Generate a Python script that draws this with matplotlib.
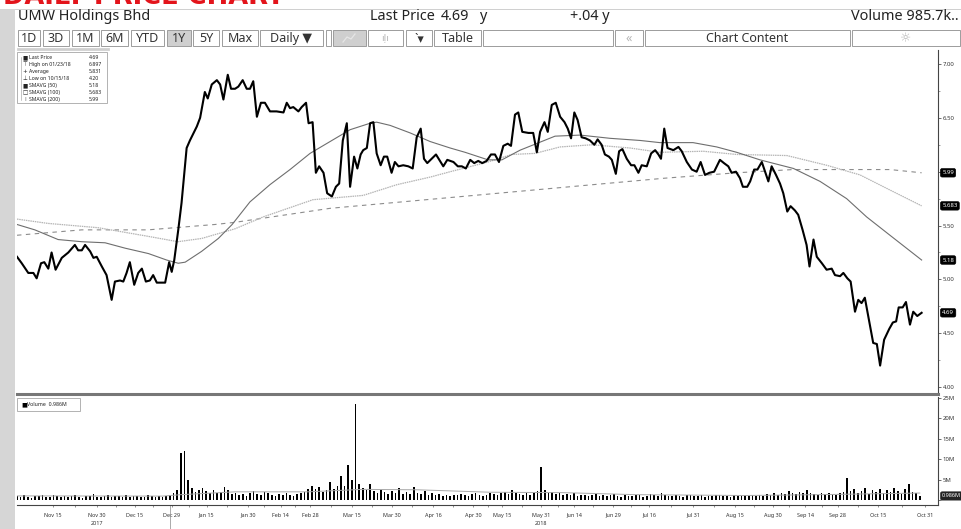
"""Bloomberg-style daily price chart for UMW Holdings Bhd (1Y, with SMAVG 50/100/200 and volume)."""

import matplotlib

matplotlib.use("Agg")

import matplotlib.pyplot as plt
from matplotlib.lines import Line2D
from matplotlib.patches import Rectangle

plt.rcParams["font.family"] = ["Noto Sans", "DejaVu Sans"]

W, H = 961, 529

# ---------------------------------------------------------------- data
# x = trading session index from the start of the 1Y window
price_day = [
    0, 1.3, 3.1, 4.5, 5.4, 6.6, 7.5, 8.6, 9.5, 10.6,
    12.3, 14.1, 15.9, 16.8, 17.8, 18.7, 20.1, 21.0, 21.9, 23.3,
    24.6, 26.0, 26.9, 28.3, 29.2, 30.1, 31.0, 32.2, 33.3, 34.3,
    35.4, 36.5, 37.4, 38.4, 39.8, 40.7, 41.8, 42.5, 43.2, 44.3,
    45.2, 46.6, 47.5, 49.4, 50.3, 51.6, 52.4, 53.5, 54.9, 55.8,
    56.7, 57.9, 58.8, 59.9, 60.8, 62.0, 63.1, 64.0, 64.9, 65.9,
    67.0, 68.1, 69.5, 71.3, 73.2, 74.1, 75.0, 75.9, 77.3, 78.2,
    79.4, 80.1, 81.2, 82.1, 83.0, 84.2, 85.2, 86.5, 87.6, 88.5,
    89.5, 90.6, 91.5, 92.6, 93.5, 94.4, 95.1, 96.1, 97.0, 97.9,
    98.8, 99.9, 100.8, 101.7, 102.9, 103.8, 104.8, 106.1, 107.5, 108.7,
    109.8, 110.9, 111.8, 112.7, 113.9, 115.1, 116.0, 117.1, 118.2, 119.9,
    121.1, 122.2, 123.3, 124.5, 125.6, 126.7, 127.8, 129.0, 130.2, 131.3,
    132.4, 133.6, 134.8, 135.7, 136.8, 137.7, 138.8, 140.5, 141.8, 142.8,
    143.7, 144.9, 145.8, 146.9, 148.0, 149.2, 150.4, 151.3, 152.2, 153.1,
    154.0, 155.1, 156.2, 157.4, 158.6, 159.5, 160.6, 161.5, 162.6, 163.4,
    164.5, 165.4, 166.3, 167.5, 168.7, 169.6, 170.7, 171.6, 173.0, 174.2,
    175.3, 176.2, 176.9, 177.8, 178.7, 180.3, 181.7, 182.6, 184.0, 185.4,
    186.7, 187.8, 189.0, 190.2, 191.5, 193.1, 194.2, 195.4, 196.3, 197.5,
    198.6, 199.4, 200.6, 201.4, 202.5, 203.4, 204.6, 205.5, 206.4, 207.3,
    208.5, 209.6, 210.5, 211.6, 212.5, 213.7, 214.6, 215.8, 216.9, 217.7,
    218.8, 219.7, 221.1, 222.4, 223.8, 224.7, 226.1, 227.0, 228.1, 229.0,
    230.2, 231.1, 232.0, 232.9, 234.1, 235.2, 236.2, 237.1, 238.2, 239.6,
    240.6, 241.5, 242.2, 243.3, 244.2, 245.3, 246.2, 247.3, 248.5,
]
price_last = [
    5.21, 5.15, 5.06, 5.06, 5.01, 5.15, 5.16, 5.10, 5.25, 5.09,
    5.20, 5.25, 5.32, 5.27, 5.27, 5.32, 5.26, 5.20, 5.21, 5.12,
    5.04, 4.81, 4.98, 4.99, 4.98, 5.06, 5.16, 4.95, 5.06, 5.10,
    4.98, 4.99, 5.04, 4.97, 4.97, 4.97, 5.16, 5.07, 5.18, 5.46,
    5.71, 6.22, 6.29, 6.42, 6.50, 6.74, 6.68, 6.81, 6.85, 6.81,
    6.67, 6.90, 6.77, 6.77, 6.79, 6.85, 6.77, 6.77, 6.84, 6.51,
    6.64, 6.64, 6.56, 6.56, 6.55, 6.64, 6.59, 6.60, 6.56, 6.60,
    6.64, 6.45, 6.46, 5.99, 6.05, 5.99, 5.80, 5.77, 5.86, 5.89,
    6.29, 6.45, 5.86, 6.14, 6.03, 6.16, 6.20, 6.22, 6.45, 6.46,
    6.17, 6.06, 6.14, 6.14, 5.99, 6.09, 6.05, 6.06, 6.05, 6.03,
    6.32, 6.40, 6.12, 6.08, 6.12, 6.16, 6.11, 6.05, 6.11, 6.09,
    6.05, 6.05, 6.03, 6.11, 6.08, 6.10, 6.08, 6.10, 6.16, 6.16,
    6.09, 6.24, 6.26, 6.24, 6.53, 6.55, 6.37, 6.36, 6.36, 6.18,
    6.37, 6.46, 6.37, 6.62, 6.64, 6.51, 6.46, 6.40, 6.31, 6.55,
    6.48, 6.32, 6.31, 6.29, 6.25, 6.30, 6.25, 6.16, 6.14, 6.11,
    5.98, 6.19, 6.21, 6.12, 6.06, 6.06, 5.99, 6.06, 6.05, 6.17,
    6.20, 6.16, 6.12, 6.40, 6.22, 6.20, 6.23, 6.19, 6.09, 6.02,
    6.00, 6.09, 5.97, 5.99, 6.00, 6.11, 6.08, 6.05, 5.99, 6.00,
    5.94, 5.86, 5.86, 5.91, 6.02, 6.02, 6.09, 6.00, 5.91, 6.05,
    5.97, 5.89, 5.80, 5.63, 5.68, 5.64, 5.60, 5.46, 5.32, 5.12,
    5.37, 5.21, 5.15, 5.09, 5.10, 5.04, 5.03, 5.06, 5.01, 4.98,
    4.70, 4.81, 4.78, 4.83, 4.61, 4.41, 4.40, 4.20, 4.44, 4.54,
    4.60, 4.61, 4.74, 4.74, 4.79, 4.58, 4.70, 4.66, 4.69,
]
assert len(price_day) == len(price_last)

sma50_day = [0, 4.9, 11.3, 17.8, 24.2, 29.7, 36.1, 41.1, 44.3, 46.2, 50.7, 55.3,
             59.1, 64.0, 69.5, 75.0, 80.5, 86.0, 91.5, 97.0, 98.8, 102.5, 108.0,
             113.5, 119.0, 123.1, 129.4, 133.2, 138.2, 147.8, 154.7, 162.9, 171.2,
             176.6, 185.7, 192.2, 197.7, 204.1, 213.3, 220.6, 227.9, 233.4, 239.8, 248.5]
sma50 = [5.51, 5.46, 5.37, 5.35, 5.34, 5.29, 5.24, 5.18, 5.15, 5.16, 5.26, 5.38,
         5.51, 5.72, 5.88, 6.02, 6.17, 6.28, 6.39, 6.45, 6.46, 6.43, 6.36,
         6.28, 6.22, 6.18, 6.11, 6.11, 6.20, 6.33, 6.34, 6.31, 6.29,
         6.27, 6.27, 6.23, 6.18, 6.11, 6.03, 5.91, 5.75, 5.58, 5.41, 5.18]

sma100_day = [0, 8.5, 22.3, 36.0, 44.2, 50.7, 59.9, 67.6, 81.3, 95.1, 104.4, 113.5,
              119.0, 129.4, 135.9, 142.3, 149.2, 158.0, 168.4, 176.6, 188.5, 197.7,
              211.5, 222.4, 231.6, 239.8, 248.5]
sma100 = [5.56, 5.52, 5.48, 5.40, 5.35, 5.38, 5.47, 5.58, 5.74, 5.78, 5.88, 5.95,
          6.00, 6.09, 6.16, 6.17, 6.23, 6.25, 6.22, 6.18, 6.19, 6.16,
          6.15, 6.06, 5.97, 5.83, 5.683]

sma200_day = [0, 17.8, 36.0, 54.4, 59.9, 86.0, 119.0, 178.0, 197.7, 213.2, 239.8, 248.5]
sma200 = [5.41, 5.46, 5.46, 5.51, 5.53, 5.66, 5.76, 5.94, 5.99, 6.02, 6.02, 5.99]

# daily volume in millions of shares, one value per session
volume = [
    0.9, 0.7, 1.1, 0.8, 0.6, 1.0, 0.9, 1.3, 0.8, 0.7, 1.2, 0.9, 0.8, 1.0, 0.7, 0.9, 1.1, 0.8, 0.6, 0.9,
    1.0, 1.4, 0.8, 0.7, 0.9, 1.2, 0.8, 1.0, 0.9, 0.7, 1.1, 0.8, 0.9, 1.0, 0.7, 0.8, 1.2, 0.9, 0.8, 1.0,
    0.7, 0.9, 1.3, 1.8, 2.5, 11.5, 12.0, 5.0, 3.0, 2.0, 2.5, 3.0, 2.2, 1.8, 2.5, 1.6, 2.0, 3.2, 2.4, 1.5,
    1.8, 1.2, 1.5, 1.0, 1.8, 2.2, 1.5, 1.2, 2.0, 1.6, 1.2, 1.0, 1.5, 1.3, 1.8, 1.2, 1.0, 1.4, 1.6, 2.0,
    2.8, 3.5, 2.6, 3.2, 2.0, 2.5, 4.5, 2.8, 3.5, 6.0, 3.5, 8.5, 5.0, 23.5, 4.0, 3.0, 2.5, 3.8, 2.2, 1.8,
    2.5, 2.0, 1.5, 2.2, 1.6, 3.0, 1.4, 2.0, 1.5, 3.2, 1.8, 1.4, 2.2, 1.3, 1.6, 1.1, 1.4, 1.0, 1.2, 0.9,
    1.3, 1.1, 1.5, 1.2, 0.9, 1.4, 1.6, 1.2, 1.0, 1.3, 1.8, 1.4, 1.1, 1.6, 2.0, 1.5, 2.4, 1.8, 1.4, 1.2,
    1.6, 1.3, 1.8, 2.2, 8.0, 2.5, 1.6, 2.0, 1.4, 1.8, 1.3, 1.5, 1.2, 1.6, 1.0, 1.3, 1.1, 0.9, 1.2, 1.4,
    1.0, 1.2, 0.9, 1.1, 1.5, 1.0, 0.8, 1.2, 1.0, 0.9, 1.3, 1.1, 0.8, 1.0, 1.4, 1.2, 0.9, 1.6, 1.1, 1.0,
    0.9, 1.2, 1.0, 0.8, 1.1, 1.3, 0.9, 1.0, 1.2, 0.8, 1.0, 0.9, 1.1, 1.3, 0.9, 1.0, 0.8, 1.2, 1.0, 0.9,
    1.1, 1.0, 1.3, 0.9, 1.2, 1.0, 1.4, 1.1, 1.6, 1.2, 1.8, 1.5, 2.2, 1.6, 1.4, 2.0, 1.8, 2.4, 1.6, 1.5,
    1.3, 1.7, 1.4, 1.8, 1.5, 1.3, 1.6, 2.0, 5.5, 2.2, 2.6, 1.8, 2.2, 3.0, 1.5, 2.5, 2.0, 2.8, 1.6, 2.4,
    2.0, 3.0, 2.2, 1.5, 2.6, 3.8, 2.0, 1.8, 0.986,
]
vol_avg_day = [0, 40, 45, 60, 80, 95, 110, 130, 150, 170, 200, 220, 248]
vol_avg = [1.0, 0.95, 1.3, 2.0, 2.0, 2.6, 2.5, 1.9, 1.8, 1.3, 1.1, 1.3, 1.7]

tick_day = [9.8, 21.9, 32.4, 42.5, 52.1, 63.5, 72.4, 80.5, 92.0, 102.9, 114.3, 125.3,
            133.2, 144.0, 153.0, 163.7, 173.6, 185.7, 197.3, 207.6, 216.5, 225.5,
            236.5, 249.5]
tick_label = ["Nov 15", "Nov 30", "Dec 15", "Dec 29", "Jan 15", "Jan 30", "Feb 14",
              "Feb 28", "Mar 15", "Mar 30", "Apr 16", "Apr 30", "May 15", "May 31",
              "Jun 14", "Jun 29", "Jul 16", "Jul 31", "Aug 15", "Aug 30", "Sep 14",
              "Sep 28", "Oct 15", "Oct 31"]
year_day = [21.9, 144.0]
year_label = ["2017", "2018"]
year_break_day = 42.0

legend_label = ["Last Price", "High on 01/23/18", "Average", "Low on 10/15/18",
                "SMAVG (50)", "SMAVG (100)", "SMAVG (200)"]
legend_value = ["4.69", "6.897", "5.831", "4.20", "5.18", "5.683", "5.99"]
legend_symbol = ["■", "⊤", "+", "⊥", "■", "□", "⁞"]

price_flags = [5.99, 5.683, 5.18, 4.69]
price_flag_text = ["5.99", "5.683", "5.18", "4.69"]


# ---------------------------------------------------------------- helpers
def fx(px):
    return px / W


def fy(py):
    return 1 - py / H


def box(fig, x0, y0, x1, y1, fc="white", ec="#a6a6a6", lw=0.6, z=1):
    fig.add_artist(Rectangle((fx(x0), fy(y1)), (x1 - x0) / W, (y1 - y0) / H,
                             transform=fig.transFigure, fc=fc, ec=ec, lw=lw, zorder=z))


def hline(fig, x0, x1, y, color="#c8c8c8", lw=0.6):
    fig.add_artist(Line2D([fx(x0), fx(x1)], [fy(y), fy(y)], transform=fig.transFigure,
                          color=color, lw=lw))


fig = plt.figure(figsize=(W / 100, H / 100), dpi=100)
fig.patch.set_facecolor("white")

# page furniture (the red caption is cropped at the top edge, as in the screenshot)
box(fig, 0, 9, 15, 529, fc="#d6d6d6", ec="none")
fig.text(fx(3), fy(4), "DAILY PRICE CHART", color="#e3141b", fontsize=18.5,
         fontweight="bold", va="baseline", family="DejaVu Sans")
hline(fig, 15, 961, 8.5)

# header row
hdr = dict(fontsize=10.4, va="center", color="#222")
fig.text(fx(18), fy(16.5), "UMW Holdings Bhd", **hdr)
fig.text(fx(370), fy(16.5), "Last Price", **hdr)
fig.text(fx(441), fy(16.5), "4.69", **hdr)
fig.text(fx(479), fy(16.5), "y", **hdr)
fig.text(fx(570), fy(16.5), "+.04 y", **hdr)
fig.text(fx(959), fy(16.5), "Volume 985.7k..", ha="right", **hdr)

# toolbar row
buttons = [("1D", 18, 40, False), ("3D", 43, 69, False), ("1M", 72, 99, False),
           ("6M", 101, 128, False), ("YTD", 131, 164, False), ("1Y", 167, 191, True),
           ("5Y", 193, 219, False), ("Max", 222, 258, False), ("Daily ▼", 260, 323, False),
           ("", 326, 331, False), ("", 333, 366, True), ("", 368, 403, False),
           ("`▾", 406, 432, False), ("Table", 434, 481, False), ("", 483, 613, False),
           ("«", 615, 643, False), ("Chart Content", 645, 850, False), ("☼", 852, 960, False)]
for label, x0, x1, shaded in buttons:
    box(fig, x0, 30, x1, 46, fc="#cfcfcf" if shaded else "white", ec="#9c9c9c", lw=0.7)
    if label:
        grey = label in ("«", "☼")
        fig.text(fx((x0 + x1) / 2), fy(38.5), label, fontsize=9, ha="center", va="center",
                 color="#b5b5b5" if grey else "#333")
fig.text(fx(385.5), fy(38.5), "ıļı", fontsize=7, ha="center", va="center", color="#b8b8b8")
# faint line-chart glyph in the shaded button
fig.add_artist(Line2D([fx(343), fx(347), fx(351), fx(355)], [fy(42), fy(37), fy(39), fy(34)],
                      transform=fig.transFigure, color="#e6e6e6", lw=0.9, zorder=3))
hline(fig, 18, 108, 48.5, color="#d0d0d0", lw=2)

# ---------------------------------------------------------------- price panel
ax = fig.add_axes([fx(17), fy(394), (938 - 17) / W, (394 - 50) / H])
ax.plot(sma200_day, sma200, color="#8c8c8c", lw=0.8, ls=(0, (4, 4)))
ax.plot(sma100_day, sma100, color="#b4b4b4", lw=0.9, ls=(0, (1.2, 0.6)))
ax.plot(sma50_day, sma50, color="#6e6e6e", lw=0.8)
ax.plot(price_day, price_last, color="black", lw=1.5, solid_joinstyle="round")
ax.set_xlim(0, 253)
ax.set_ylim(3.936, 7.13)
ax.set_xticks([])
ax.yaxis.tick_right()
ax.set_yticks([4.0, 4.5, 5.0, 5.5, 6.0, 6.5, 7.0])
ax.set_yticklabels(["4.00", "4.50", "5.00", "5.50", "", "6.50", "7.00"])
ax.set_yticks([4.25, 4.75, 5.25, 5.75, 6.25, 6.75], minor=True)
ax.tick_params(axis="y", which="major", length=2.5, width=0.6, pad=1, labelsize=4.3,
               labelcolor="#333", color="#555")
ax.tick_params(axis="y", which="minor", length=1.5, width=0.5, color="#777")
for side in ("top", "left"):
    ax.spines[side].set_visible(False)
ax.spines["right"].set_color("#444")
ax.spines["right"].set_linewidth(0.8)
ax.spines["bottom"].set_color("#777")
ax.spines["bottom"].set_linewidth(2.2)

for v, t in zip(price_flags, price_flag_text):
    ax.annotate(t, xy=(1, v), xycoords=("axes fraction", "data"), xytext=(3, 0),
                textcoords="offset points", va="center", ha="left", fontsize=4.3,
                color="white", annotation_clip=False,
                bbox=dict(boxstyle="round,pad=0.3,rounding_size=0.3", fc="black", ec="black", lw=0.4))

# legend box
box(fig, 17, 52, 107, 103, z=3)
for i, (sym, lab, val) in enumerate(zip(legend_symbol, legend_label, legend_value)):
    yy = fy(57.5 + 7 * i)
    fig.text(fx(25), yy, sym, fontsize=4, ha="center", va="center", color="#222", zorder=4,
             family="DejaVu Sans")
    fig.text(fx(29), yy, lab, fontsize=3.7, va="center", color="#222", zorder=4)
    fig.text(fx(89), yy, val, fontsize=3.7, va="center", color="#222", zorder=4)
fig.add_artist(Line2D([fx(20.5), fx(20.5)], [fy(57), fy(100)], transform=fig.transFigure,
                      color="#999", lw=0.4, zorder=4))

# ---------------------------------------------------------------- volume panel
vax = fig.add_axes([fx(17), fy(505), (938 - 17) / W, (505 - 397) / H])
vax.bar(range(len(volume)), volume, width=0.45, color="black")
vax.plot(vol_avg_day, vol_avg, color="#a8a8a8", lw=0.7)
vax.set_xlim(0, 253)
vax.set_ylim(-1.23, 25.25)
vax.yaxis.tick_right()
vax.set_yticks([0, 5, 10, 15, 20, 25])
vax.set_yticklabels(["", "5M", "10M", "15M", "20M", "25M"])
vax.tick_params(axis="y", length=2.5, width=0.6, pad=1, labelsize=4.3, labelcolor="#333",
                color="#555")
vax.set_xticks(tick_day)
vax.set_xticklabels(tick_label)
minor_x = [(a + b) / 2 for a, b in zip(tick_day[:-1], tick_day[1:])]
vax.set_xticks(minor_x, minor=True)
vax.tick_params(axis="x", which="major", length=1.5, width=0.5, pad=4, labelsize=3.9,
                labelcolor="#333", color="#666")
vax.tick_params(axis="x", which="minor", length=1.5, width=0.5, color="#666")
for side in ("top", "left"):
    vax.spines[side].set_visible(False)
vax.spines["right"].set_color("#444")
vax.spines["right"].set_linewidth(0.8)
vax.spines["bottom"].set_color("#444")
vax.spines["bottom"].set_linewidth(0.8)

vax.annotate("0.986M", xy=(1, volume[-1]), xycoords=("axes fraction", "data"), xytext=(3, 0),
             textcoords="offset points", va="center", ha="left", fontsize=4, color="white",
             annotation_clip=False,
             bbox=dict(boxstyle="round,pad=0.3,rounding_size=0.3", fc="#222", ec="#222", lw=0.4))

for d, t in zip(year_day, year_label):
    vax.annotate(t, xy=(d, 0), xycoords=("data", "axes fraction"), xytext=(0, -13),
                 textcoords="offset points", ha="center", va="center", fontsize=3.9,
                 color="#333", annotation_clip=False)
vax.plot([year_break_day, year_break_day], [0, -0.22], transform=vax.get_xaxis_transform(),
         color="#888", lw=0.5, clip_on=False)

box(fig, 17, 398, 80, 411, z=3)
fig.text(fx(21), fy(404.5), "■", fontsize=4.5, va="center", color="black", zorder=4,
         family="DejaVu Sans")
fig.text(fx(27), fy(404.5), "Volume  0.986M", fontsize=3.8, va="center", color="#222", zorder=4)

fig.savefig("out.png", dpi=100)
